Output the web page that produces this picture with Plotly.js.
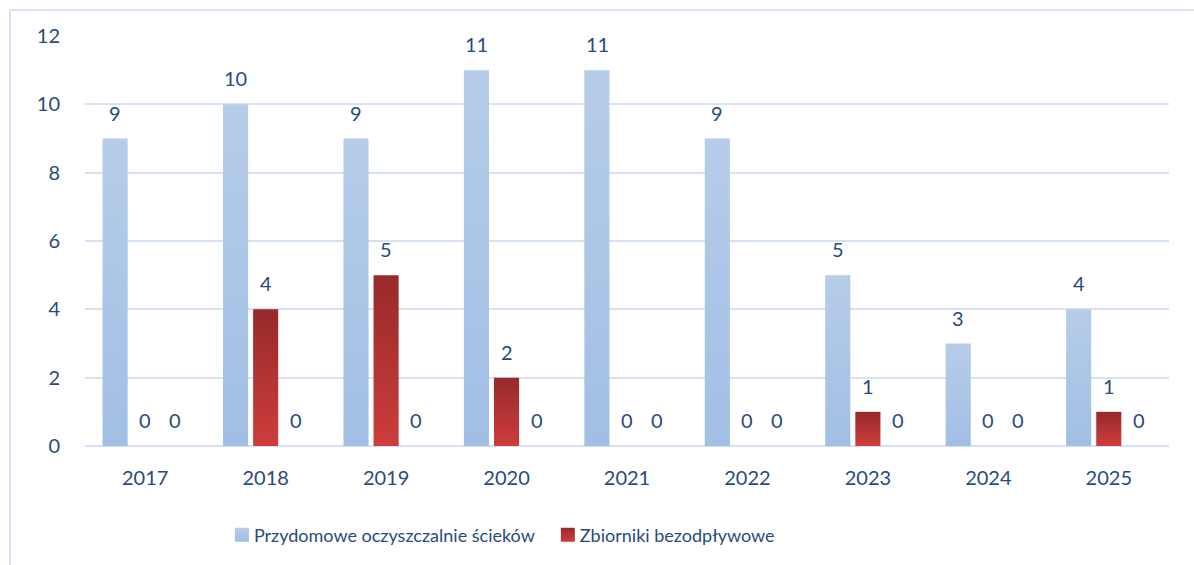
<!DOCTYPE html>
<html>
<head>
<meta charset="utf-8">
<script src="https://cdn.plot.ly/plotly-3.0.1.min.js"></script>
<style>
  html, body { margin: 0; padding: 0; background: #fff; }
  #chart {
    position: absolute; left: 9px; top: 9px;
    width: 1185px; height: 556px;
    border-left: 2px solid #d9e4f3; border-top: 2px solid #d9e4f3;
    box-sizing: border-box;
  }
</style>
</head>
<body>
<div id="chart"></div>
<script>
// data
var years = ["2017", "2018", "2019", "2020", "2021", "2022", "2023", "2024", "2025"];
var oczyszczalnie = [9, 10, 9, 11, 11, 9, 5, 3, 4];
var zbiorniki = [0, 4, 5, 2, 0, 0, 1, 0, 1];
var trzecia = [0, 0, 0, 0, 0, 0, 0, 0, 0];

var textColor = "#2a4a7d";
var gridColor = "#d6e2f3";

var trace1 = {
    x: years, y: oczyszczalnie, type: "bar",
    name: "Przydomowe oczyszczalnie ścieków",
    marker: {color: "#abc5e7"}
};
var trace2 = {
    x: years, y: zbiorniki, type: "bar",
    name: "Zbiorniki bezodpływowe",
    marker: {color: "#b5332f"}
};
var trace3 = {
    x: years, y: trzecia, type: "bar",
    name: "", showlegend: false,
    marker: {color: "#7f7f7f"}
};

// value labels above each bar (x given as category index)
var series = [oczyszczalnie, zbiorniki, trzecia];
var shifts = [-30, 0, 30];
var notes = [];
series.forEach(function (vals, s) {
    vals.forEach(function (v, i) {
        notes.push({
            x: i, y: v, text: String(v), showarrow: false,
            xshift: shifts[s], yshift: 26, yanchor: "middle",
            font: {family: "Lato", size: 20, color: textColor}
        });
    });
});

var layout = {
    width: 1183, height: 554,
    margin: {l: 74, r: 25, t: 25, b: 117},
    paper_bgcolor: "#fff", plot_bgcolor: "#fff",
    font: {family: "Lato", size: 20, color: textColor},
    barmode: "group", bargap: 0.25, bargroupgap: 1 / 6,
    xaxis: {
        type: "category", range: [-0.5, years.length - 0.5],
        showgrid: false, showline: false,
        ticks: "outside", ticklen: 14, tickcolor: "rgba(0,0,0,0)",
        tickfont: {family: "Lato", size: 20, color: textColor}
    },
    yaxis: {
        range: [0, 12], dtick: 2, showgrid: true,
        gridcolor: gridColor, gridwidth: 2,
        zeroline: true, zerolinecolor: gridColor, zerolinewidth: 2,
        ticks: "outside", ticklen: 20, tickcolor: "rgba(0,0,0,0)",
        tickfont: {family: "Lato", size: 20, color: textColor}
    },
    legend: {
        orientation: "h", x: 0.38, xanchor: "center",
        y: -0.217, yanchor: "middle",
        font: {family: "Lato", size: 18, color: textColor},
        itemwidth: 30, tracegroupgap: 20
    },
    annotations: notes
};

Plotly.newPlot("chart", [trace1, trace2, trace3], layout, {displayModeBar: false}).then(function (gd) {
    // vertical gradients like the original bars
    var svg = gd.querySelector(".main-svg");
    var ns = "http://www.w3.org/2000/svg";
    var defs = svg.querySelector("defs");
    function grad(id, top, bottom) {
        var g = document.createElementNS(ns, "linearGradient");
        g.setAttribute("id", id);
        g.setAttribute("x1", "0"); g.setAttribute("y1", "0");
        g.setAttribute("x2", "0"); g.setAttribute("y2", "1");
        [[0, top], [1, bottom]].forEach(function (st) {
            var s = document.createElementNS(ns, "stop");
            s.setAttribute("offset", st[0]);
            s.setAttribute("stop-color", st[1]);
            g.appendChild(s);
        });
        defs.appendChild(g);
    }
    grad("gBlue", "#b6cde9", "#a1bee4");
    grad("gRed", "#972a2a", "#cd3d3c");
    var ids = ["gBlue", "gRed"];
    gd.querySelectorAll(".barlayer .trace").forEach(function (t, k) {
        if (k > 1) return;
        t.querySelectorAll("path").forEach(function (p) {
            p.style.fill = "url(#" + ids[k] + ")";
        });
    });
    gd.querySelectorAll(".legend .traces").forEach(function (t, k) {
        if (k > 1) return;
        t.querySelectorAll(".legendpoints path").forEach(function (p) {
            p.setAttribute("d", "M15,7H1V-7H15Z");
            p.style.fill = "url(#" + ids[k] + ")";
            p.style.strokeWidth = "0";
        });
    });
});
</script>
</body>
</html>
